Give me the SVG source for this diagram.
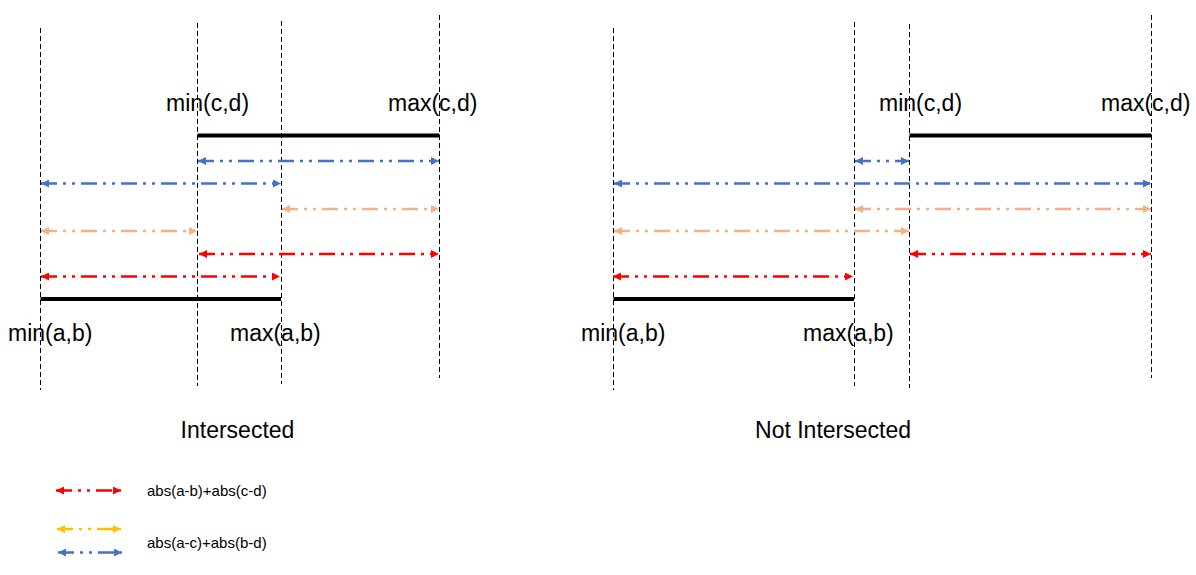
<svg xmlns="http://www.w3.org/2000/svg" width="1196" height="575" viewBox="0 0 1196 575">
<style>
.guide{stroke:#000;stroke-width:1;stroke-dasharray:5 3;fill:none}
.seg{stroke:#000;stroke-width:4;fill:none}
.a{stroke-width:2.4;fill:none;stroke-dasharray:16 6 3 6 3 6}
.blue{stroke:#4472C4;marker-start:url(#mb);marker-end:url(#mb)}
.red{stroke:#FF0000;marker-start:url(#mr);marker-end:url(#mr)}
.orange{stroke:#F4B183;marker-start:url(#mo);marker-end:url(#mo)}
.yellow{stroke:#FFC000;marker-start:url(#my);marker-end:url(#my)}
text{font-family:"Liberation Sans",Arial,sans-serif;fill:#000}
.lbl{font-size:23px}
.leg{font-size:15px}
</style>
<defs>
<marker id="mb" viewBox="0 0 8 8" refX="8" refY="4" markerWidth="8" markerHeight="8" markerUnits="userSpaceOnUse" orient="auto-start-reverse"><path d="M0,0 L8,4 L0,8 z" fill="#4472C4"/></marker>
<marker id="mr" viewBox="0 0 8 8" refX="8" refY="4" markerWidth="8" markerHeight="8" markerUnits="userSpaceOnUse" orient="auto-start-reverse"><path d="M0,0 L8,4 L0,8 z" fill="#FF0000"/></marker>
<marker id="mo" viewBox="0 0 8 8" refX="8" refY="4" markerWidth="8" markerHeight="8" markerUnits="userSpaceOnUse" orient="auto-start-reverse"><path d="M0,0 L8,4 L0,8 z" fill="#F4B183"/></marker>
<marker id="my" viewBox="0 0 8 8" refX="8" refY="4" markerWidth="8" markerHeight="8" markerUnits="userSpaceOnUse" orient="auto-start-reverse"><path d="M0,0 L8,4 L0,8 z" fill="#FFC000"/></marker>
</defs>
<rect width="1196" height="575" fill="#fff"/>
<g id="intersected">
  <g id="guides-left">
    <line class="guide" x1="40.5" y1="28" x2="40.5" y2="390"/>
    <line class="guide" x1="197.5" y1="23" x2="197.5" y2="386"/>
    <line class="guide" x1="281.5" y1="21" x2="281.5" y2="384"/>
    <line class="guide" x1="439.5" y1="15" x2="439.5" y2="378"/>
  </g>
  <g id="segments-left">
    <line class="seg" x1="197.5" y1="135.5" x2="439.5" y2="135.5"/>
    <line class="seg" x1="40.5" y1="299" x2="281" y2="299"/>
  </g>
  <g id="arrows-left">
    <line class="a blue" x1="198" y1="161" x2="439" y2="161"/>
    <line class="a blue" x1="41" y1="183.5" x2="281" y2="183.5"/>
    <line class="a orange" x1="282" y1="209" x2="439" y2="209"/>
    <line class="a orange" x1="41" y1="231" x2="197" y2="231"/>
    <line class="a red" x1="199" y1="254" x2="439" y2="254"/>
    <line class="a red" x1="41" y1="276.5" x2="280" y2="276.5"/>
  </g>
  <g id="labels-left">
    <text class="lbl" x="166" y="111">min(c,d)</text>
    <text class="lbl" x="388" y="111">max(c,d)</text>
    <text class="lbl" x="8" y="341">min(a,b)</text>
    <text class="lbl" x="230" y="341">max(a,b)</text>
    <text class="lbl" x="237.5" y="438" text-anchor="middle">Intersected</text>
  </g>
</g>
<g id="not-intersected">
  <g id="guides-right">
    <line class="guide" x1="613.5" y1="28" x2="613.5" y2="390"/>
    <line class="guide" x1="854.5" y1="22" x2="854.5" y2="386"/>
    <line class="guide" x1="909.5" y1="24" x2="909.5" y2="388"/>
    <line class="guide" x1="1151.5" y1="15" x2="1151.5" y2="378"/>
  </g>
  <g id="segments-right">
    <line class="seg" x1="909.5" y1="135.5" x2="1151.5" y2="135.5"/>
    <line class="seg" x1="613.5" y1="299" x2="854" y2="299"/>
  </g>
  <g id="arrows-right">
    <line class="a blue" x1="855" y1="161" x2="909" y2="161"/>
    <line class="a blue" x1="614" y1="183.5" x2="1151" y2="183.5"/>
    <line class="a orange" x1="855" y1="209" x2="1151" y2="209"/>
    <line class="a orange" x1="614" y1="231" x2="909" y2="231"/>
    <line class="a red" x1="910" y1="254" x2="1151" y2="254"/>
    <line class="a red" x1="613" y1="276.5" x2="853" y2="276.5"/>
  </g>
  <g id="labels-right">
    <text class="lbl" x="879" y="111">min(c,d)</text>
    <text class="lbl" x="1101" y="111">max(c,d)</text>
    <text class="lbl" x="581" y="341">min(a,b)</text>
    <text class="lbl" x="803" y="341">max(a,b)</text>
    <text class="lbl" x="833" y="438" text-anchor="middle">Not Intersected</text>
  </g>
</g>
<g id="legend">
  <line class="a red" x1="56" y1="490.5" x2="121" y2="490.5"/>
  <line class="a yellow" x1="57" y1="529" x2="121" y2="529"/>
  <line class="a blue" x1="58" y1="552.5" x2="122" y2="552.5"/>
  <text class="leg" x="147" y="496">abs(a-b)+abs(c-d)</text>
  <text class="leg" x="147" y="548">abs(a-c)+abs(b-d)</text>
</g>
</svg>
